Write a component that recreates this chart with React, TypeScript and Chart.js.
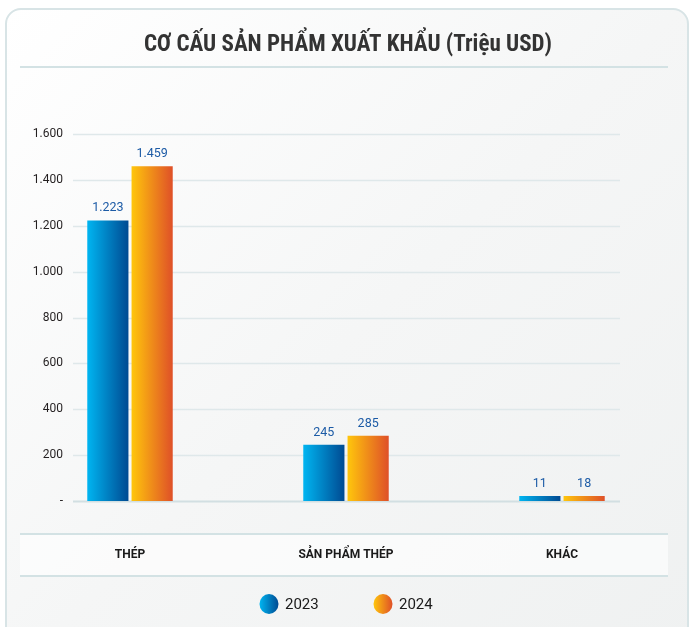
import React, { useEffect, useRef } from "react";
import { Chart, registerables } from "chart.js";

Chart.register(...registerables);

const TITLE = "CƠ CẤU SẢN PHẨM XUẤT KHẨU (Triệu USD)";
const categories = ["THÉP", "SẢN PHẨM THÉP", "KHÁC"];
const seriesLabels = ["2023", "2024"];
const values2023 = [1223, 245, 11];
const values2024 = [1459, 285, 18];
const yMax = 1600;
const yStep = 200;

const CAT_PCT = 0.41;
const BAR_PCT = 0.93;
const GRAD_2023 = ["#00b5f1", "#004a92"];
const GRAD_2024 = ["#ffc60c", "#df5028"];
const LABEL_COLOR = "#1c5ba6";
const TEXT_DARK = "#231f20";
const LINE_COLOR = "#d3e2e4";
const GRID_COLOR = "#dfe8ea";

const fmt = (v: number) =>
  v === 0 ? "-" : String(v).replace(/\B(?=(\d{3})+(?!\d))/g, ".");

function barGradient(stops: string[]) {
  return (ctx: any) => {
    const chart = ctx.chart;
    const xs = chart.scales && chart.scales.x;
    if (!chart.chartArea || !xs || ctx.dataIndex == null) return stops[0];
    const catW = xs.width / categories.length;
    const slot = (catW * CAT_PCT) / 2;
    const c = xs.getPixelForValue(ctx.dataIndex) + (ctx.datasetIndex - 0.5) * slot;
    const half = (slot * BAR_PCT) / 2;
    const g = chart.ctx.createLinearGradient(c - half, 0, c + half, 0);
    g.addColorStop(0, stops[0]);
    g.addColorStop(1, stops[1]);
    return g;
  };
}

const decor = {
  id: "decor",
  beforeDraw(chart: any) {
    const ctx = chart.ctx;
    const ys = chart.scales.y;
    ctx.save();
    // title
    ctx.fillStyle = "#333333";
    ctx.font = "bold 23px 'Liberation Sans Narrow', 'Roboto Condensed', Roboto, sans-serif";
    ctx.textAlign = "center";
    ctx.textBaseline = "middle";
    ctx.fillText(TITLE, 348, 45);
    // lines
    ctx.strokeStyle = LINE_COLOR;
    ctx.lineWidth = 2;
    [67, 534, 576].forEach((y) => {
      ctx.beginPath();
      ctx.moveTo(20, y);
      ctx.lineTo(668, y);
      ctx.stroke();
    });
    ctx.fillStyle = "rgba(255,255,255,0.6)";
    ctx.fillRect(20, 535, 648, 40);
    // grid + ticks
    ys.ticks.forEach((t: any) => {
      const y = Math.round(ys.getPixelForValue(t.value)) + 0.5;
      ctx.strokeStyle = t.value === 0 ? "#d2dfe2" : GRID_COLOR;
      ctx.lineWidth = t.value === 0 ? 2 : 1.3;
      ctx.beginPath();
      ctx.moveTo(73, y);
      ctx.lineTo(620, y);
      ctx.stroke();
      ctx.fillStyle = TEXT_DARK;
      ctx.font = "12px Roboto, sans-serif";
      ctx.textAlign = "right";
      ctx.textBaseline = "middle";
      ctx.fillText(fmt(t.value), 63, y - 1);
    });
    ctx.restore();
  },
  afterDatasetsDraw(chart: any) {
    const ctx = chart.ctx;
    ctx.save();
    ctx.fillStyle = LABEL_COLOR;
    ctx.font = "12.5px Roboto, sans-serif";
    ctx.textAlign = "center";
    ctx.textBaseline = "bottom";
    chart.data.datasets.forEach((ds: any, di: number) => {
      const meta = chart.getDatasetMeta(di);
      meta.data.forEach((el: any, i: number) => {
        ctx.fillText(fmt(ds.data[i]), el.x, el.y - 6);
      });
    });
    // x labels
    const xs = chart.scales.x;
    ctx.fillStyle = "#1a1a1a";
    ctx.font = "bold 12px Roboto, sans-serif";
    ctx.textBaseline = "middle";
    categories.forEach((c, i) => {
      ctx.fillText(c, xs.getPixelForValue(i), 555);
    });
    // legend
    const grads = [GRAD_2023, GRAD_2024];
    chart.data.datasets.forEach((ds: any, di: number) => {
      const cx = 269 + di * 114;
      const cy = 604;
      const g = ctx.createLinearGradient(cx - 9.5, 0, cx + 9.5, 0);
      g.addColorStop(0, grads[di][0]);
      g.addColorStop(1, grads[di][1]);
      ctx.fillStyle = g;
      ctx.beginPath();
      ctx.ellipse(cx, cy, 9.5, 10, 0, 0, Math.PI * 2);
      ctx.fill();
      ctx.fillStyle = "#1a1a1a";
      ctx.font = "15px Roboto, sans-serif";
      ctx.textAlign = "left";
      ctx.fillText(ds.label, cx + 16, cy + 1);
    });
    ctx.restore();
  },
};

export default function App() {
  const ref = useRef<HTMLCanvasElement | null>(null);
  useEffect(() => {
    if (!ref.current) return;
    const chart = new Chart(ref.current, {
      type: "bar",
      data: {
        labels: categories,
        datasets: [
          {
            label: seriesLabels[0],
            data: values2023,
            backgroundColor: barGradient(GRAD_2023),
            categoryPercentage: CAT_PCT,
            barPercentage: BAR_PCT,
            minBarLength: 5,
          },
          {
            label: seriesLabels[1],
            data: values2024,
            backgroundColor: barGradient(GRAD_2024),
            categoryPercentage: CAT_PCT,
            barPercentage: BAR_PCT,
            minBarLength: 5,
          },
        ],
      },
      options: {
        responsive: false,
        animation: false,
        devicePixelRatio: 1,
        layout: { padding: { left: 22, right: 26, top: 134, bottom: 126 } },
        plugins: { legend: { display: false }, tooltip: { enabled: false }, title: { display: false } },
        scales: {
          x: { display: false, offset: true },
          y: { display: false, min: 0, max: yMax, ticks: { stepSize: yStep } },
        },
      },
      plugins: [decor],
    });
    return () => chart.destroy();
  }, []);
  return (
    <div style={{ position: "absolute", left: 0, top: 0, width: 696, height: 627, overflow: "hidden", background: "#ffffff" }}>
      <div
        style={{
          position: "absolute",
          left: 5,
          top: 8,
          width: 680,
          height: 660,
          border: "2px solid #d8e4e6",
          borderRadius: 16,
          background: "linear-gradient(135deg, #ffffff 0%, #f5f6f6 50%, #eff1f1 100%)",
        }}
      />
      <canvas ref={ref} width={696} height={627} style={{ position: "absolute", left: 0, top: 0, width: 696, height: 627 }} />
    </div>
  );
}
